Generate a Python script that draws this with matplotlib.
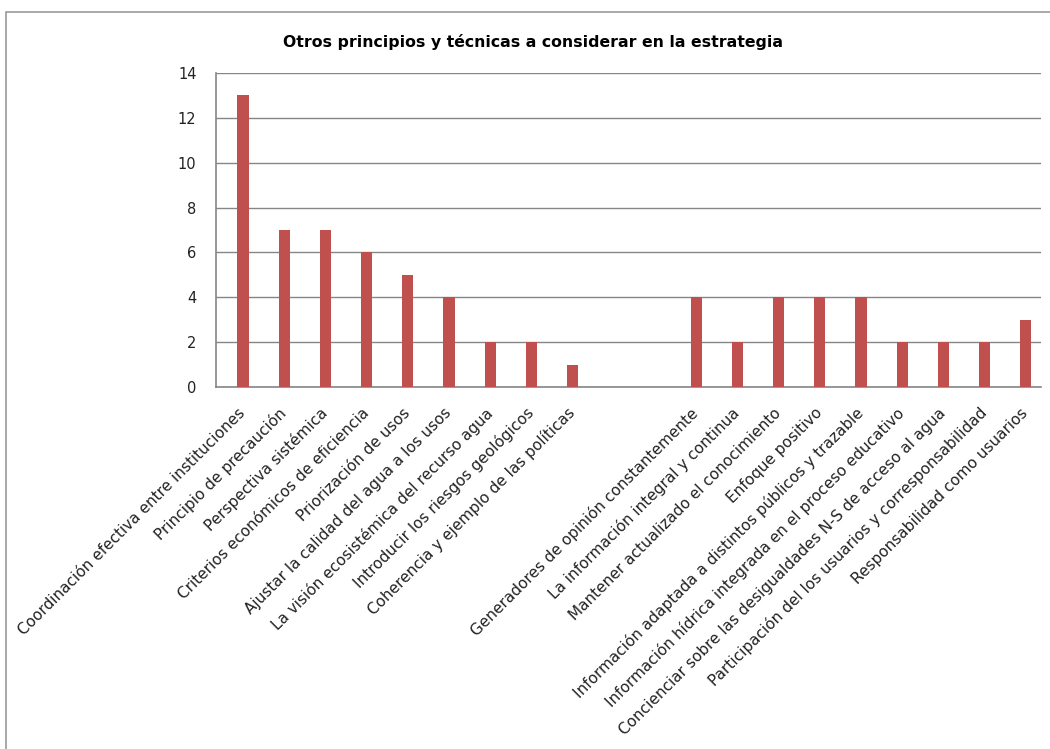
import matplotlib.pyplot as plt
from matplotlib.patches import Rectangle

plt.rcParams['font.family'] = 'DejaVu Sans'

categorias = [
    'Coordinación efectiva entre instituciones',
    'Principio de precaución',
    'Perspectiva sistémica',
    'Criterios económicos de eficiencia',
    'Priorización de usos',
    'Ajustar la calidad del agua a los usos',
    'La visión ecosistémica del recurso agua',
    'Introducir los riesgos geológicos',
    'Coherencia y ejemplo de las políticas',
    '',
    '',
    'Generadores de opinión constantemente',
    'La información integral y continua',
    'Mantener actualizado el conocimiento',
    'Enfoque positivo',
    'Información adaptada a distintos públicos y trazable',
    'Información hídrica integrada en el proceso educativo',
    'Concienciar sobre las desigualdades N-S de acceso al agua',
    'Participación del los usuarios y corresponsabilidad',
    'Responsabilidad como usuarios',
]
valores = [13, 7, 7, 6, 5, 4, 2, 2, 1, 0, 0, 4, 2, 4, 4, 4, 2, 2, 2, 3]

fig = plt.figure(figsize=(10.5, 7.49), dpi=100)
ax = fig.add_axes([216/1050, 1 - 387/749, (1041 - 216)/1050, (387 - 73)/749])

x = range(len(categorias))
ax.bar(x, valores, width=0.27, color='#C0504D', zorder=3)

ax.set_xlim(-0.655, 19.37)
ax.set_ylim(0, 14)
ax.set_yticks(range(0, 15, 2))
ax.yaxis.grid(True, color='#868686', linewidth=1, zorder=0)

for s in ['top', 'right']:
    ax.spines[s].set_visible(False)
for s in ['left', 'bottom']:
    ax.spines[s].set_color('#868686')
    ax.spines[s].set_linewidth(1.2)

ax.tick_params(axis='y', length=0, pad=14, labelsize=10.5, labelcolor='#222222')
ax.tick_params(axis='x', length=0, pad=17)
ax.set_xticks(list(x))
ax.set_xticklabels(categorias, rotation=45, ha='right', va='center',
                   rotation_mode='anchor', fontsize=11, color='#222222')

fig.text(533/1050, 1 - 42/749, 'Otros principios y técnicas a considerar en la estrategia',
         ha='center', va='center', fontsize=11.3, fontweight='bold')

# marco exterior del gráfico
fig.patches.append(Rectangle((6/1050, -0.01), 1.02, 1 - 12/749 + 0.01,
                             transform=fig.transFigure, fill=False,
                             edgecolor='#9a9a9a', linewidth=1.2))

fig.savefig('out.png', dpi=100)
